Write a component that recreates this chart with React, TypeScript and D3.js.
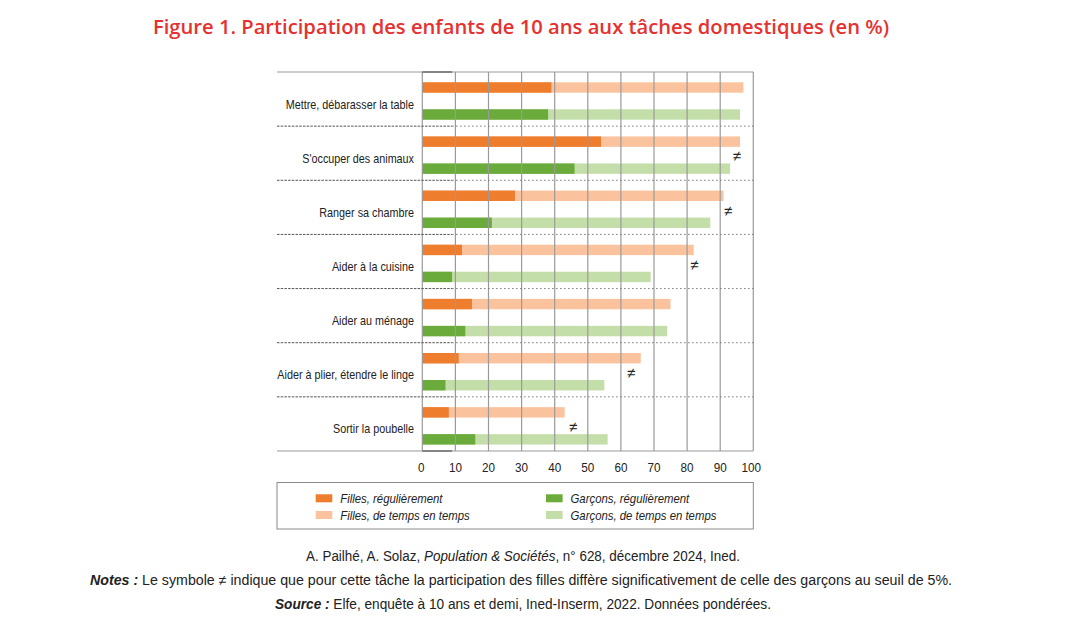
import React from "react";
import * as d3 from "d3";

const categories = [
  "Mettre, débarasser la table",
  "S'occuper des animaux",
  "Ranger sa chambre",
  "Aider à la cuisine",
  "Aider au ménage",
  "Aider à plier, étendre le linge",
  "Sortir la poubelle",
];
// cumulative values (%): "régulièrement" and total ("régulièrement" + "de temps en temps")
const fillesRegulier = [39, 54, 28, 12, 15, 11, 8];
const fillesTotal = [97, 96, 91, 82, 75, 66, 43];
const garconsRegulier = [38, 46, 21, 9, 13, 7, 16];
const garconsTotal = [96, 93, 87, 69, 74, 55, 56];
// position (in % units) of the "≠" marker, null when no significant difference
const significantAt: (number | null)[] = [null, 95, 92.4, 82.2, null, 63.1, 45.6];
const ticks = [0, 10, 20, 30, 40, 50, 60, 70, 80, 90, 100];
const legendItems = [
  { label: "Filles, régulièrement", color: "#ef7d2e" },
  { label: "Filles, de temps en temps", color: "#fbc39d" },
  { label: "Garçons, régulièrement", color: "#6aab3b" },
  { label: "Garçons, de temps en temps", color: "#c4dea9" },
];

const FONT = "'Liberation Sans', Arial, sans-serif";
const SX = 0.83;

function CText(props: {
  x: number; y: number; anchor?: "start" | "middle" | "end"; size: number; italic?: boolean; sx?: number; children: React.ReactNode;
}) {
  const s = props.sx ?? SX;
  return (
    <text
      transform={`translate(${props.x},${props.y}) scale(${s},1)`}
      dy="0.35em"
      textAnchor={props.anchor ?? "start"}
      fontFamily={FONT}
      fontSize={props.size}
      fontStyle={props.italic ? "italic" : "normal"}
      fill="#222"
    >
      {props.children}
    </text>
  );
}

function FitText(props: { x: number; y: number; width: number; size: number; children: React.ReactNode }) {
  return (
    <text
      x={props.x}
      y={props.y}
      dy="0.35em"
      textLength={props.width}
      lengthAdjust="spacingAndGlyphs"
      fontFamily={FONT}
      fontSize={props.size}
      fill="#222"
    >
      {props.children}
    </text>
  );
}

export default function App() {
  const W = 1080, H = 619;
  const left = 277, x0 = 422.3, x1 = 753.3, top = 72, bottom = 451;
  const x = d3.scaleLinear().domain([0, 100]).range([x0, x1]);
  const y = d3.scaleBand<string>().domain(categories).range([top, bottom]).padding(0);
  const bh = 10.4;
  const off1 = 10.3, off2 = 37.3;
  const grid = "#9a9a9a";

  return (
    <svg width={W} height={H} style={{ position: "absolute", left: 0, top: 0, background: "#fff" }}>
      <text x={521} y={34} textAnchor="middle" fill="#e5312f" fontFamily="'Open Sans', sans-serif" fontWeight={600} fontSize={20.2}>
        Figure 1. Participation des enfants de 10 ans aux tâches domestiques (en %)
      </text>

      {/* bars */}
      {categories.map((c, i) => {
        const b = y(c)!;
        return (
          <g key={c}>
            <rect x={x(0)} y={b + off1} width={x(fillesTotal[i]) - x(0)} height={bh} fill={legendItems[1].color} />
            <rect x={x(0)} y={b + off1} width={x(fillesRegulier[i]) - x(0)} height={bh} fill={legendItems[0].color} />
            <rect x={x(0)} y={b + off2} width={x(garconsTotal[i]) - x(0)} height={bh} fill={legendItems[3].color} />
            <rect x={x(0)} y={b + off2} width={x(garconsRegulier[i]) - x(0)} height={bh} fill={legendItems[2].color} />
          </g>
        );
      })}

      {/* vertical gridlines */}
      {ticks.map((t) => (
        <line key={t} x1={x(t)} x2={x(t)} y1={top} y2={bottom} stroke={grid} strokeWidth={1.2} />
      ))}

      {/* separators */}
      {categories.slice(1).map((c) => {
        const b = y(c)!;
        return (
          <g key={"s" + c}>
            <line x1={left} x2={x(9)} y1={b} y2={b} stroke="#555" strokeWidth={1} strokeDasharray="2.5,1.2" />
            <line x1={x(9)} x2={x1} y1={b} y2={b} stroke="#777" strokeWidth={1} strokeDasharray="1.5,2.5" />
          </g>
        );
      })}
      <line x1={left} x2={x1} y1={top} y2={top} stroke={grid} strokeWidth={1.2} />
      <line x1={left} x2={x1} y1={bottom} y2={bottom} stroke={grid} strokeWidth={1.2} />
      <line x1={x(0)} x2={x(9)} y1={top} y2={top} stroke="#555" strokeWidth={1.2} />
      <line x1={x(0)} x2={x(9)} y1={bottom} y2={bottom} stroke="#555" strokeWidth={1.2} />

      {/* category labels */}
      {categories.map((c) => (
        <CText key={"l" + c} x={414} y={y(c)! + 32} anchor="end" size={13}>
          {c}
        </CText>
      ))}

      {/* significance markers */}
      {categories.map((c, i) =>
        significantAt[i] == null ? null : (
          <text key={"n" + c} x={x(significantAt[i]!)} y={y(c)! + 30} dy="0.35em" textAnchor="middle" fontFamily={FONT} fontSize={15} fill="#222">
            ≠
          </text>
        )
      )}

      {/* tick labels */}
      {ticks.map((t) => (
        <CText key={"t" + t} x={x(t) - (t === 0 ? 1 : t === 100 ? 2 : 0)} y={467} anchor="middle" size={13} sx={0.9}>
          {t}
        </CText>
      ))}

      {/* legend */}
      <rect x={left} y={482.5} width={x1 - left} height={46.5} fill="none" stroke="#8a8a8a" strokeWidth={1} />
      {legendItems.map((it, i) => {
        const col = Math.floor(i / 2);
        const row = i % 2;
        const sx = col === 0 ? 315.7 : 546;
        const sy = 494.3 + row * 16.7;
        return (
          <g key={it.label}>
            <rect x={sx} y={sy} width={16.6} height={8} fill={it.color} />
            <CText x={sx + 24.5} y={sy + 4} size={13} italic sx={0.875}>
              {it.label}
            </CText>
          </g>
        );
      })}

      {/* source & notes */}
      <FitText x={306} y={556} width={434} size={14}>
        A. Pailhé, A. Solaz, <tspan fontStyle="italic">Population &amp; Sociétés</tspan>, n° 628, décembre 2024, Ined.
      </FitText>
      <FitText x={90} y={580.5} width={862} size={14}>
        <tspan fontStyle="italic" fontWeight="bold">Notes :</tspan> Le symbole ≠ indique que pour cette tâche la participation des filles diffère significativement de celle des garçons au seuil de 5%.
      </FitText>
      <FitText x={275} y={604} width={496} size={14}>
        <tspan fontStyle="italic" fontWeight="bold">Source :</tspan> Elfe, enquête à 10 ans et demi, Ined-Inserm, 2022. Données pondérées.
      </FitText>
    </svg>
  );
}
